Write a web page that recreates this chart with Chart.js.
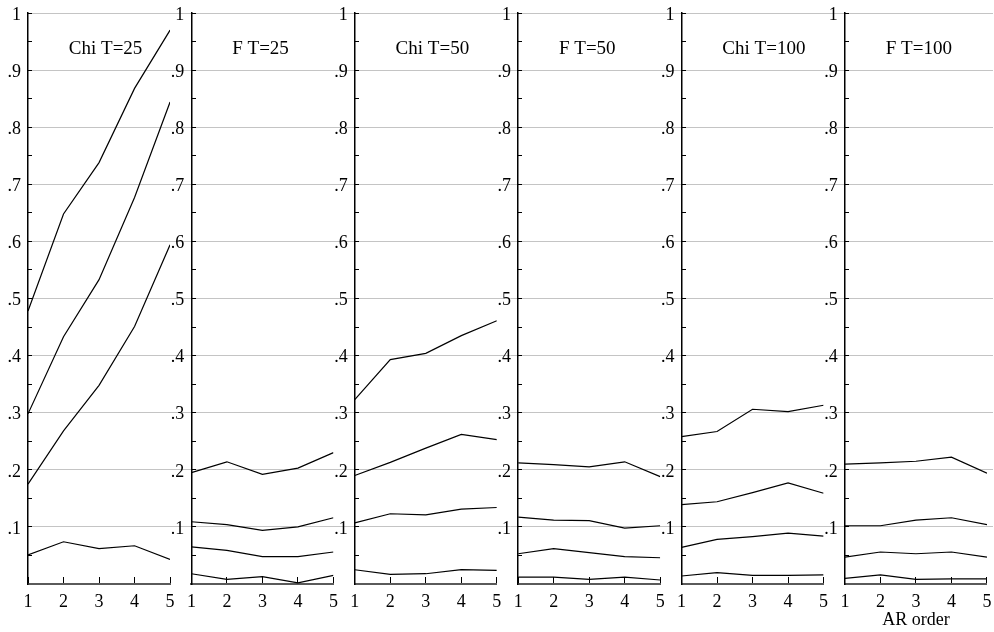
<!DOCTYPE html>
<html lang="en">
<head>
    <meta charset="UTF-8">
    <title>Rejection frequencies by AR order</title>
    <script src="https://cdn.jsdelivr.net/npm/chart.js"></script>
    <style>
        body {
            margin: 0;
            background: #fff;
        }
    </style>
</head>
<body>
    <canvas id="arChart" width="994" height="632"></canvas>
    <script>
        // AR order on the x axis of every panel
        const arOrder = [1, 2, 3, 4, 5];
        const panelTitles = ['Chi T=25', 'F T=25', 'Chi T=50', 'F T=50', 'Chi T=100', 'F T=100'];

        // four curves per panel, top to bottom
        const chiT25 = [
            [0.478, 0.648, 0.738, 0.868, 0.970],
            [0.298, 0.433, 0.533, 0.677, 0.844],
            [0.175, 0.268, 0.348, 0.451, 0.594],
            [0.051, 0.074, 0.062, 0.067, 0.043]
        ];
        const fT25 = [
            [0.195, 0.214, 0.192, 0.203, 0.230],
            [0.109, 0.104, 0.094, 0.100, 0.116],
            [0.065, 0.059, 0.048, 0.048, 0.056],
            [0.018, 0.008, 0.013, 0.002, 0.015]
        ];
        const chiT50 = [
            [0.323, 0.393, 0.404, 0.435, 0.461],
            [0.190, 0.213, 0.238, 0.262, 0.253],
            [0.107, 0.123, 0.121, 0.131, 0.134],
            [0.025, 0.017, 0.018, 0.025, 0.024]
        ];
        const fT50 = [
            [0.212, 0.209, 0.205, 0.214, 0.188],
            [0.117, 0.112, 0.111, 0.098, 0.102],
            [0.053, 0.062, 0.055, 0.048, 0.046],
            [0.012, 0.012, 0.008, 0.012, 0.007]
        ];
        const chiT100 = [
            [0.258, 0.267, 0.306, 0.302, 0.313],
            [0.139, 0.144, 0.160, 0.177, 0.159],
            [0.064, 0.078, 0.083, 0.089, 0.084],
            [0.014, 0.020, 0.015, 0.015, 0.016]
        ];
        const fT100 = [
            [0.210, 0.212, 0.215, 0.222, 0.194],
            [0.102, 0.102, 0.112, 0.116, 0.104],
            [0.047, 0.056, 0.053, 0.056, 0.047],
            [0.010, 0.016, 0.008, 0.009, 0.009]
        ];
        const panels = [chiT25, fT25, chiT50, fT50, chiT100, fT100];

        // y axis: labelled values (with grid lines) and all tick marks
        const yLabelValues = [0.1, 0.2, 0.3, 0.4, 0.5, 0.6, 0.7, 0.8, 0.9, 1];
        const yMarkValues = [0.05, 0.1, 0.15, 0.2, 0.25, 0.3, 0.35, 0.4, 0.45, 0.5,
                             0.55, 0.6, 0.65, 0.7, 0.75, 0.8, 0.85, 0.9, 0.95, 1];

        const FONT = "'Liberation Serif', 'Times New Roman', serif";
        const GAP = 0.6;          // space for the y labels between panels, in AR-order units
        const TAIL = 0.17;        // grid lines run a little past the last panel
        const LABEL_SHIFT = 0.2;  // y labels sit this far left of their axis line
        const AXIS_HEIGHT = 48;
        const TITLE_AT = { x: 2.15, y: 0.929 };

        const yLabel = v => yLabelValues.includes(v) ? (v === 1 ? '1' : '.' + Math.round(v * 10)) : '';

        // no extra room for overhanging labels: the plot area is set by layout.padding
        const noPadding = s => { s.paddingTop = s.paddingBottom = s.paddingLeft = s.paddingRight = 0; };
        const fixHeight = s => { s.height = AXIS_HEIGHT; noPadding(s); };

        const scales = {};
        let order = 0;

        // empty bottom axis that only takes up width in the stack
        const spacer = (weight) => ({
            type: 'linear', axis: 'x', position: 'bottom', min: 0, max: 1,
            stack: 'panels', stackWeight: weight, weight: order++,
            afterFit: fixHeight,
            grid: { display: false },
            border: { display: false },
            ticks: { display: false }
        });

        panels.forEach((_, p) => {
            if (p > 0) scales['gap' + p] = spacer(GAP);

            scales['x' + p] = {
                type: 'linear', axis: 'x', position: 'bottom', min: 1, max: 5,
                stack: 'panels', stackWeight: 4, weight: order++,
                afterBuildTicks: s => { s.ticks = arOrder.map(v => ({ value: v })); },
                afterFit: fixHeight,
                grid: { drawOnChartArea: false, drawTicks: true, tickLength: -7, tickColor: '#000', tickWidth: 1 },
                border: { color: '#5a5a5a', width: 2 },
                ticks: {
                    padding: 14, color: '#000', autoSkip: false, maxRotation: 0, minRotation: 0,
                    font: { family: FONT, size: 18 },
                    callback: v => String(v)
                },
                title: {
                    display: p === panels.length - 1, text: 'AR order', color: '#000',
                    font: { family: FONT, size: 18 }, padding: { top: 0, bottom: 1 }
                }
            };

            // axis line, tick marks and (first panel only) the grid
            scales['y' + p] = {
                type: 'linear', axis: 'y', min: 0, max: 1,
                position: { ['x' + p]: 1 },
                afterBuildTicks: s => { s.ticks = yMarkValues.map(v => ({ value: v })); },
                afterFit: noPadding,
                grid: {
                    drawOnChartArea: p === 0, z: -1,
                    color: c => yLabelValues.includes(c.tick.value) ? '#c4c4c4' : 'rgba(0,0,0,0)',
                    lineWidth: 1,
                    tickLength: -5, tickColor: '#000', tickWidth: 1
                },
                border: { color: '#000', width: 1.5 },
                ticks: { display: false }
            };

            // tick labels, set a little to the left of the axis line
            scales['yl' + p] = {
                type: 'linear', axis: 'y', min: 0, max: 1,
                position: { ['x' + p]: 1 - LABEL_SHIFT },
                afterBuildTicks: s => { s.ticks = yLabelValues.map(v => ({ value: v })); },
                afterFit: noPadding,
                grid: { display: false },
                border: { display: false },
                ticks: {
                    labelOffset: 2, color: '#000', autoSkip: false,
                    font: { family: FONT, size: 18 },
                    callback: v => yLabel(v)
                }
            };
        });
        scales.tail = spacer(TAIL);

        const datasets = [];
        panels.forEach((series, p) => {
            series.forEach(values => {
                datasets.push({
                    data: values.map((y, i) => ({ x: arOrder[i], y: y })),
                    xAxisID: 'x' + p,
                    yAxisID: 'y' + p,
                    borderColor: '#000',
                    borderWidth: 1.2,
                    pointRadius: 0,
                    fill: false,
                    tension: 0
                });
            });
        });

        // panel headings inside the plot area
        const panelTitlePlugin = {
            id: 'panelTitles',
            afterDatasetsDraw(chart) {
                const ctx = chart.ctx;
                ctx.save();
                ctx.font = '19px ' + FONT;
                ctx.fillStyle = '#000';
                ctx.textAlign = 'left';
                ctx.textBaseline = 'alphabetic';
                panelTitles.forEach((t, p) => {
                    const x = chart.scales['x' + p].getPixelForValue(TITLE_AT.x);
                    const y = chart.scales['y' + p].getPixelForValue(TITLE_AT.y);
                    ctx.fillText(t, x, y);
                });
                ctx.restore();
            }
        };

        new Chart(document.getElementById('arChart'), {
            type: 'line',
            data: { datasets: datasets },
            options: {
                responsive: false,
                animation: false,
                devicePixelRatio: 1,
                layout: { padding: { left: 28, top: 13, right: 1, bottom: 0 } },
                plugins: { legend: { display: false }, tooltip: { enabled: false } },
                scales: scales
            },
            plugins: [panelTitlePlugin]
        });
    </script>
</body>
</html>
